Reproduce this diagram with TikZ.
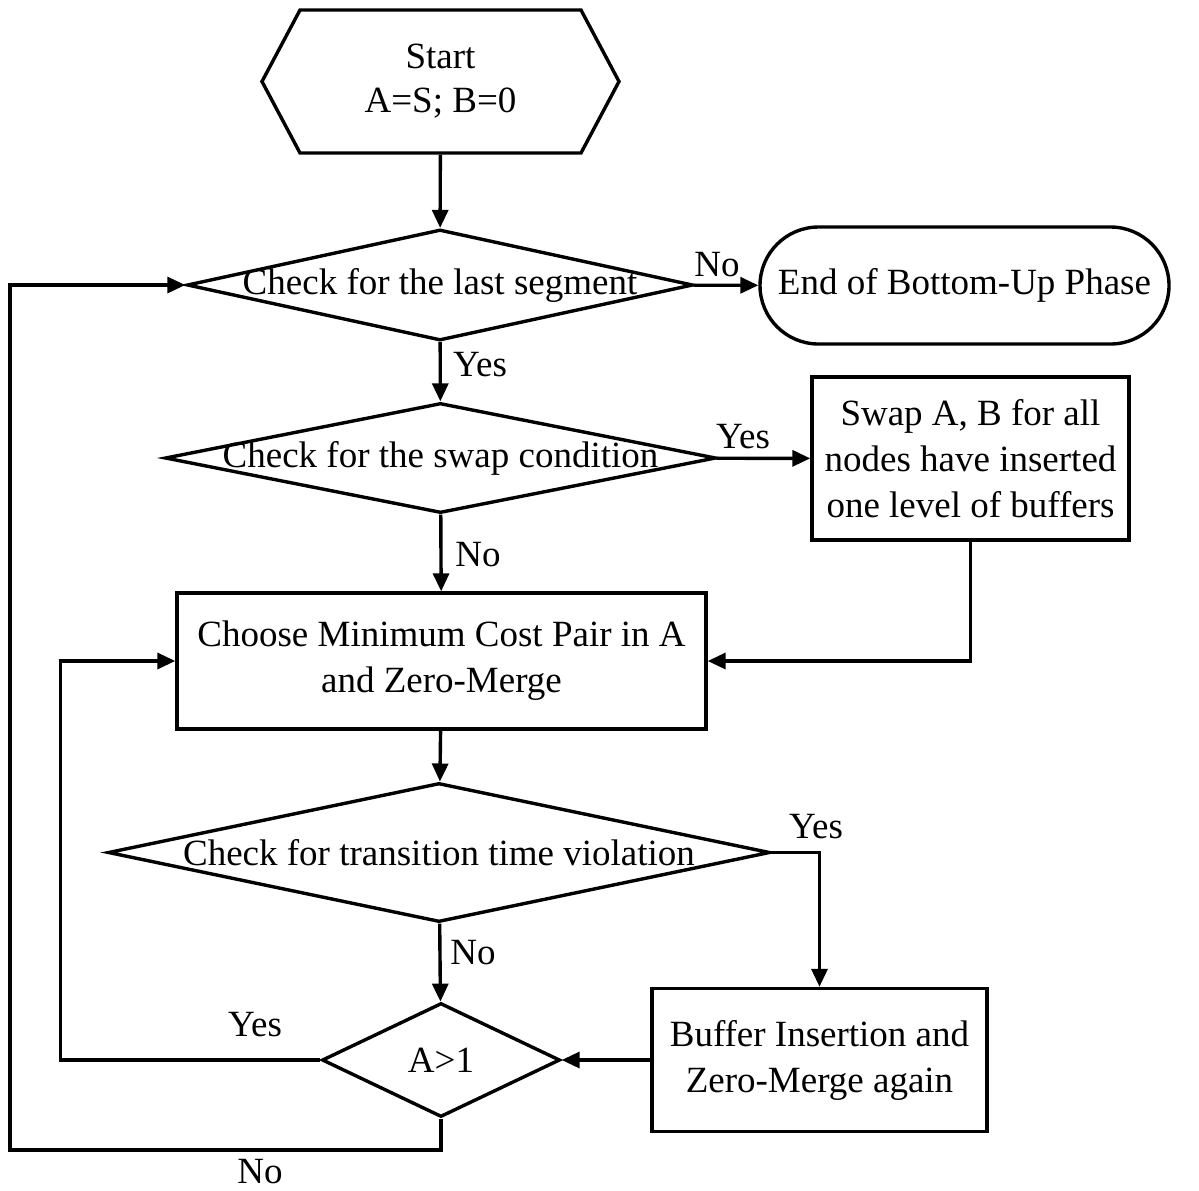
\documentclass[tikz,border=0pt]{standalone}
\usepackage{fontspec}
\setmainfont{Liberation Serif}
\usepackage{tikz}
\usetikzlibrary{arrows.meta,calc,positioning,shapes.geometric,shapes.misc,shapes.symbols}

\begin{document}
\begin{tikzpicture}[
    x=0.5pt, y=-0.5pt,
    font=\fontsize{18.5}{23}\selectfont,
    startbox/.style={draw, line width=1.7pt, signal, signal to=west and east,
                     signal pointer angle=124, minimum width=178.5pt,
                     minimum height=71.5pt, inner sep=0pt, align=center},
    decision/.style={draw, line width=1.7pt, diamond, inner sep=0pt},
    block/.style={draw, line width=1.7pt, rectangle, inner sep=0pt, align=center},
    terminal/.style={draw, line width=1.7pt, rounded rectangle,
                     minimum width=204.5pt, minimum height=58.5pt, inner sep=0pt},
    lbl/.style={inner sep=0pt},
    arrow/.style={-{Triangle[length=9pt,width=8pt]}, line width=1.7pt}
]
\useasboundingbox (0,0) rectangle (1199,1190);
\node[startbox] (start) at (440.5,81.5) {Start\\[-1pt]A=S; B=0};
\node[decision, minimum width=253pt, minimum height=55.5pt] (last) at (440,285)
    {\makebox[0pt]{Check for the last segment}};
\node[terminal] (finish) at (964.5,285.5) {End of Bottom-Up Phase};
\node[decision, minimum width=275.5pt, minimum height=55pt] (swapcheck) at (440.5,458)
    {\makebox[0pt]{Check for the swap condition}};
\node[block, minimum width=158.5pt, minimum height=81.5pt] (swap) at (970.5,458.5)
    {Swap A, B for all\\nodes have inserted\\one level of buffers};
\node[block, minimum width=264.5pt, minimum height=68pt] (choose) at (441.5,661)
    {Choose Minimum Cost Pair in A\\and Zero-Merge};
\node[decision, minimum width=331pt, minimum height=69.5pt] (violation) at (439,852.5)
    {\makebox[0pt]{Check for transition time violation}};
\node[block, minimum width=167.5pt, minimum height=71.5pt] (buffer) at (819.5,1060)
    {Buffer Insertion and\\Zero-Merge again};
\node[decision, minimum width=119pt, minimum height=57pt] (more) at (441,1060) {A>1};
\coordinate (outer) at (10,1150);

% branch labels
\node[lbl] (no1) at (717,265) {No};
\node[lbl] (yes1) at (480,365) {Yes};
\node[lbl] (yes2) at (743,437) {Yes};
\node[lbl] (no2) at (478,555) {No};
\node[lbl] (yes3) at (816,827) {Yes};
\node[lbl] (no3) at (473,953) {No};
\node[lbl] (yes4) at (255,1025) {Yes};
\node[lbl] (no4) at (260,1172) {No};

\draw[arrow] (start) -- (last);
\draw[arrow] (last) -- (finish);
\draw[arrow] (last) -- (swapcheck);
\draw[arrow] (swapcheck) -- (swap);
\draw[arrow] (swapcheck) -- (choose);
\draw[arrow] (swap.south) |- (choose.east);
\draw[arrow] (choose) -- (violation);
\draw[arrow] (violation.east) -| (buffer.north);
\draw[arrow] (violation) -- (more);
\draw[arrow] (buffer) -- (more);
\draw[arrow] (more.west) -- ++(-260,0) |- (choose.west);
\draw[arrow] (more.south) |- (outer) |- (last.west);
\end{tikzpicture}
\end{document}
